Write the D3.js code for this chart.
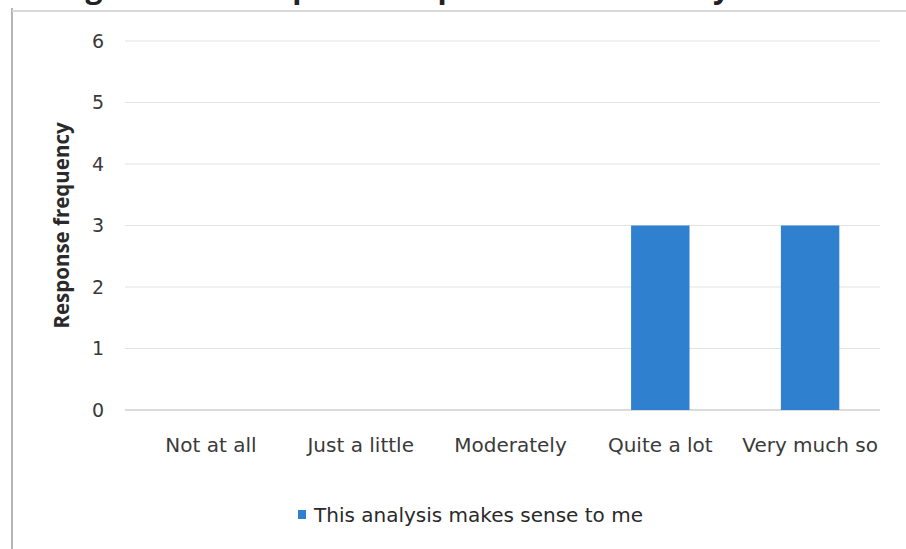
<!DOCTYPE html>
<html>
<head>
<meta charset="utf-8">
<script src="https://cdn.jsdelivr.net/npm/d3@7"></script>
<style>
  body { margin: 0; background: #fff; }
  svg { display: block; font-family: 'DejaVu Sans', 'Open Sans', sans-serif; }
</style>
</head>
<body>
<div id="chart"></div>
<script>
'use strict'

const categories = ['Not at all', 'Just a little', 'Moderately', 'Quite a lot', 'Very much so']
const responses = [0, 0, 0, 3, 3]
const yTicks = [0, 1, 2, 3, 4, 5, 6]
const seriesName = 'This analysis makes sense to me'
const yTitle = 'Response frequency'
const figTitle = 'Figure 9: Participants\u2019 responses to the analysis'

const width = 906
const height = 549
const margin = { top: 41, right: 21, bottom: 139, left: 136 }

const svg = d3.select('#chart').append('svg')
  .attr('width', width)
  .attr('height', height)

// frame of the scanned figure
svg.append('line')
  .attr('x1', 12).attr('x2', 12).attr('y1', 8).attr('y2', height)
  .attr('stroke', '#b5b5b5').attr('stroke-width', 2)
svg.append('line')
  .attr('x1', 12).attr('x2', width).attr('y1', 11).attr('y2', 11)
  .attr('stroke', '#d8d8d8').attr('stroke-width', 2)

// title is cut off by the scan, only its bottom shows
svg.append('text')
  .attr('x', 60)
  .attr('y', -2)
  .attr('font-family', 'Open Sans, sans-serif')
  .attr('font-size', 30)
  .attr('font-weight', 'bold')
  .attr('fill', '#222')
  .text(figTitle)

const x = d3.scaleBand()
  .domain(categories)
  .range([margin.left, width - margin.right])
  .paddingInner(0.61)
  .paddingOuter(0.305)

const y = d3.scaleLinear()
  .domain([0, 6])
  .range([height - margin.bottom, margin.top])

// gridlines
svg.append('g')
  .selectAll('line')
  .data(yTicks)
  .join('line')
  .attr('x1', 125)
  .attr('x2', width - 26)
  .attr('y1', d => y(d))
  .attr('y2', d => y(d))
  .attr('stroke', d => d === 0 ? '#cfcfcf' : '#e3e3e3')
  .attr('stroke-width', d => d === 0 ? 1.5 : 1)

const yAxis = d3.axisLeft(y).tickValues(yTicks).tickFormat(d3.format('d')).tickSize(0).tickPadding(0)
svg.append('g')
  .attr('transform', `translate(104,0)`)
  .call(yAxis)
  .call(g => g.select('.domain').remove())
  .selectAll('text')
  .attr('font-family', 'DejaVu Sans, sans-serif')
  .attr('font-size', 19)
  .attr('fill', '#3a3a3a')

const xAxis = d3.axisBottom(x).tickSize(0).tickPadding(0)
svg.append('g')
  .attr('transform', `translate(0,${height - margin.bottom + 28})`)
  .call(xAxis)
  .call(g => g.select('.domain').remove())
  .selectAll('text')
  .attr('font-family', 'DejaVu Sans, sans-serif')
  .attr('font-size', 20)
  .attr('fill', '#3a3a3a')
  .attr('dy', '0.72em')

svg.append('g')
  .selectAll('rect')
  .data(categories.map((c, i) => ({ c, v: responses[i] })).filter(d => d.v > 0))
  .join('rect')
  .attr('x', d => x(d.c))
  .attr('y', d => y(d.v))
  .attr('width', x.bandwidth())
  .attr('height', d => y(0) - y(d.v))
  .attr('fill', '#2f81d0')

svg.append('text')
  .attr('transform', `translate(69,${(y(0) + y(6)) / 2}) rotate(-90)`)
  .attr('text-anchor', 'middle')
  .attr('font-family', 'Open Sans, sans-serif')
  .attr('font-size', 20.5)
  .attr('font-weight', 'bold')
  .attr('fill', '#2a2a2a')
  .text(yTitle)

const legend = svg.append('g').attr('transform', 'translate(298,510)')
legend.append('rect')
  .attr('width', 8).attr('height', 9)
  .attr('fill', '#2f81d0')
legend.append('text')
  .attr('x', 16)
  .attr('y', 12)
  .attr('font-family', 'DejaVu Sans, sans-serif')
  .attr('font-size', 20)
  .attr('fill', '#2a2a2a')
  .text(seriesName)
</script>
</body>
</html>
